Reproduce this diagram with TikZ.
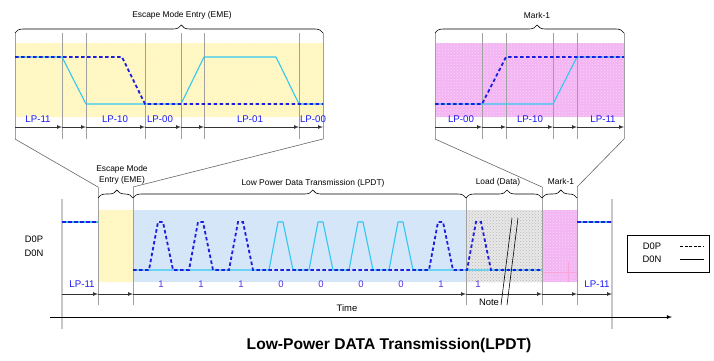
\documentclass[tikz,border=0pt]{standalone}
\usepackage{fontspec}
\setmainfont{Liberation Sans}
\usepackage{tikz}
\tikzset{>=latex}
\usetikzlibrary{patterns, backgrounds, arrows.meta}
\usetikzlibrary{decorations.pathreplacing, calc}

\definecolor{dpblue}{RGB}{30,30,225}
\definecolor{dncyan}{RGB}{50,200,240}
\definecolor{emeyellow}{RGB}{255,248,195}
\definecolor{lpdtblue}{RGB}{212,230,248}
\definecolor{markpink}{RGB}{243,180,243}
\definecolor{lplabel}{RGB}{25,25,245}
\definecolor{bitlabel}{RGB}{85,45,225}
\definecolor{markgray}{RGB}{160,160,160}

\tikzset{
  dp/.style={dpblue, line width=1.8pt, dash pattern=on 3.5pt off 2.5pt},
  dn/.style={dncyan, line width=1.1pt},
  tick/.style={markgray, line width=0.9pt},
  bigtick/.style={black!22, line width=1.6pt},
  zoomline/.style={black!60, line width=0.6pt},
  tarrow/.style={->, black!80, line width=0.7pt},
  lplbl/.style={text=lplabel, font=\fontsize{9.7}{10}\selectfont, inner sep=0pt},
  bitlbl/.style={text=bitlabel, font=\fontsize{9.5}{10}\selectfont, inner sep=0pt},
  bracelbl/.style={font=\fontsize{8.4}{10.5}\selectfont, align=center, inner sep=0pt},
  sidelbl/.style={font=\fontsize{9.4}{10}\selectfont, inner sep=0pt},
  bracket/.style={decorate, decoration={brace, amplitude=8pt, aspect=0.54}, line width=0.6pt}
}

\begin{document}
\begin{tikzpicture}[x=1pt, y=-1pt]
\useasboundingbox (0,0) rectangle (714,360);

% ---- zoom of the escape mode entry
\fill[emeyellow] (15,43) rectangle (323,117);
\fill[pattern=dots, pattern color=orange!18] (15,43) rectangle (323,117);
\foreach \n/\x in {1/15, 2/62, 3/86, 4/145, 5/181, 6/204, 7/299, 8/323} {
  \draw[tick] (\x,33) -- (\x,139);
  \coordinate (e\n) at (\x,127);
}
\foreach \a/\b in {1/2, 2/3, 3/4, 4/5, 5/6, 6/7, 7/8}
  \draw[tarrow] (e\a) -- (e\b);

\draw[dn] (15,57) -- (62,57) -- (86,104) -- (181,104) -- (204,57) -- (276,57) -- (299,104) -- (323,104);
\draw[dp] (15,57) -- (122,57) -- (145,104) -- (323,104);

\node[lplbl] (eme11) at (38,119) {LP-11};
\node[lplbl] (eme10) at (115,119) {LP-10};
\node[lplbl] (eme00) at (160,119) {LP-00};
\node[lplbl] (eme01) at (250,119) {LP-01};
\node[lplbl] (eme00b) at (313,119) {LP-00};

\draw[bracket] (15,33) -- (323,33);
\node[bracelbl] (emetop) at (182,15) {Escape Mode Entry (EME)};

% ---- zoom of mark-1
\fill[markpink] (435,43) rectangle (624,117);
\fill[pattern=crosshatch dots, pattern color=white!45!markpink] (435,43) rectangle (624,117);
\foreach \n/\x in {1/435, 2/482, 3/506, 4/553, 5/577, 6/624} {
  \draw[tick] (\x,33) -- (\x,139);
  \coordinate (m\n) at (\x,127);
}
\foreach \a/\b in {1/2, 2/3, 3/4, 4/5, 5/6}
  \draw[tarrow] (m\a) -- (m\b);

\draw[dn] (435,104) -- (553,104) -- (577,57) -- (624,57);
\draw[dp] (435,104) -- (482,104) -- (506,57) -- (624,57);

\node[lplbl] (mk00) at (461,119) {LP-00};
\node[lplbl] (mk10) at (530,119) {LP-10};
\node[lplbl] (mk11) at (603,119) {LP-11};

\draw[bracket] (435,33) -- (624,33);
\node[bracelbl] (mktop) at (537,15) {Mark-1};

% ---- lines from the zooms down to the sequence
\coordinate (zA) at (15,139);  \coordinate (zB) at (323,139);
\coordinate (zC) at (435,139); \coordinate (zD) at (624,139);
\coordinate (sA) at (98,187);  \coordinate (sB) at (133,187);
\coordinate (sC) at (542,187); \coordinate (sD) at (577,187);
\draw[zoomline] (zA) -- (sA);
\draw[zoomline] (zB) -- (sB);
\draw[zoomline] (zC) -- (sC);
\draw[zoomline] (zD) -- (sD);

% ---- the whole sequence
\fill[emeyellow] (98,210) rectangle (133,282);
\fill[pattern=dots, pattern color=orange!18] (98,210) rectangle (133,282);
\fill[lpdtblue] (133,210) rectangle (466,282);
\fill[black!9] (466,210) rectangle (542,282);
\fill[pattern=crosshatch dots, pattern color=black!28] (466,210) rectangle (542,282);
\fill[markpink] (542,210) rectangle (577,282);
\fill[pattern=crosshatch dots, pattern color=white!45!markpink] (542,210) rectangle (577,282);
\draw[magenta!35, line width=0.5pt] (542,272) -- (577,272);
\draw[magenta!35, line width=0.5pt] (568,262) -- (568,282);

\draw[bigtick] (62,199) -- (62,329);
\draw[bigtick] (612,199) -- (612,329);
\foreach \x in {98, 133, 542, 577}
  \draw[tick] (\x,187) -- (\x,305);
\draw[tick] (466,197) -- (466,305);

\draw[dn] (62,222) -- (98,222);
\draw[dp] (62,222) -- (98,222);
\draw[dn] (577,222) -- (612,222);
\draw[dp] (577,222) -- (612,222);

\draw[dn] (133,270) foreach \s in {269, 309, 349, 389} {
  -- (\s,270) -- (\s+9,222) -- (\s+14,222) -- (\s+24,270) } -- (542,270);
\draw[dp] (133,270) foreach \s in {149, 189, 229, 429, 467} {
  -- (\s,270) -- (\s+9,222) -- (\s+14,222) -- (\s+24,270) } -- (542,270);

\foreach \s/\b [count=\k] in {149/1, 189/1, 229/1, 269/0, 309/0, 349/0, 389/0, 429/1, 466/1}
  \node[bitlbl] (bit\k) at (\s+12,284) {\b};

\node[lplbl] (seq11a) at (82,284) {LP-11};
\node[lplbl] (seq11b) at (597,284) {LP-11};

\foreach \n/\x in {0/62, 1/98, 2/133, 3/466, 4/542, 5/577, 6/612}
  \coordinate (t\n) at (\x,294);
\foreach \a/\b in {0/1, 1/2, 2/3, 3/4, 4/5, 5/6}
  \draw[tarrow] (t\a) -- (t\b);

\draw[bracket] (98,198) -- (133,198);
\draw[bracket] (133,198) -- (466,198);
\draw[bracket] (466,198) -- (542,198);
\draw[bracket] (542,198) -- (577,198);
\node[bracelbl] (emelbl) at (122,175) {Escape Mode\\Entry (EME)};
\node[bracelbl] (lpdtlbl) at (313,183) {Low Power Data Transmission (LPDT)};
\node[bracelbl] (loadlbl) at (498,182) {Load (Data)};
\node[bracelbl] (marklbl) at (561,181) {Mark-1};

% break in the load data
\draw[black, line width=0.6pt] (512,218) -- (501,305);
\draw[black, line width=0.6pt] (518,218) -- (507,305);
\node[sidelbl] (note) at (489,302) {Note};

\node[sidelbl] (dplbl) at (34,239) {D0P};
\node[sidelbl] (dnlbl) at (34,253) {D0N};

% time axis
\coordinate (ax0) at (50,317);
\coordinate (ax1) at (672,317);
\draw[->, line width=0.8pt] (ax0) -- (ax1);
\node[sidelbl] (time) at (347,308) {Time};

% legend
\draw[line width=0.8pt] (627,235) rectangle (709,272);
\node[sidelbl] (legp) at (652,246) {D0P};
\node[sidelbl] (legn) at (652,259) {D0N};
\draw[line width=1pt, dash pattern=on 3pt off 1.6pt] (680,246) -- (704,246);
\draw[line width=0.8pt] (680,259) -- (704,259);

\node[font=\bfseries\fontsize{15.6}{18}\selectfont, inner sep=0pt] (title) at (389,345) {Low-Power DATA Transmission(LPDT)};
\end{tikzpicture}
\end{document}
